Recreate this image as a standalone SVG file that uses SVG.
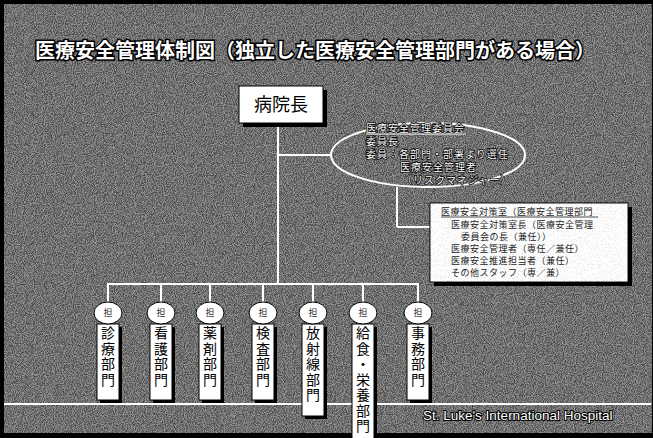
<svg xmlns="http://www.w3.org/2000/svg" width="653" height="438" viewBox="0 0 653 438">
<defs>
<filter id="noise" x="0" y="0" width="100%" height="100%" color-interpolation-filters="sRGB">
<feTurbulence type="fractalNoise" baseFrequency="1.1" numOctaves="1" seed="3" result="t"/>
<feColorMatrix type="matrix" values="3 0 0 0 -1  3 0 0 0 -1  3 0 0 0 -1  0 0 0 0 1" in="t"/>
</filter>
<filter id="lightnoise" x="0" y="0" width="100%" height="100%" color-interpolation-filters="sRGB">
<feTurbulence type="fractalNoise" baseFrequency="1.3" numOctaves="1" seed="7" result="t"/>
<feColorMatrix type="matrix" values="4 0 0 0 -1  4 0 0 0 -1  4 0 0 0 -1  0 0 0 0 1" in="t"/>
</filter>
<style>
.title{font-family:"Noto Sans CJK JP","Noto Sans CJK SC",sans-serif;font-size:20px;font-weight:bold;fill:#fff;stroke:#000;stroke-width:3px;paint-order:stroke;}
.wl{stroke:#fff;stroke-width:2;fill:none;}
.shadow{fill:#000;}
.box{fill:#fff;stroke:#000;stroke-width:1;}
.ell{font-family:"Noto Sans CJK JP",sans-serif;font-size:10px;fill:#fff;stroke:#000;stroke-width:1.5px;paint-order:stroke;letter-spacing:1px;}
.sm{font-family:"Noto Sans CJK JP",sans-serif;font-size:9px;fill:#222;letter-spacing:0.5px;}
.vt{font-family:"Noto Sans CJK JP",sans-serif;font-size:14px;fill:#000;writing-mode:vertical-rl;letter-spacing:1.5px;}
.cir{fill:#fff;stroke:#000;stroke-width:1;}
.ct{font-family:"Noto Sans CJK JP",sans-serif;font-size:9px;fill:#333;text-anchor:middle;}
.foot{font-family:"Liberation Sans",sans-serif;font-size:13.5px;fill:#fff;stroke:#000;stroke-width:2px;paint-order:stroke;}
</style>
</defs>
<rect x="0" y="0" width="653" height="438" fill="#000"/>
<rect x="4" y="4" width="648" height="429" fill="#6a6a6a"/>
<rect x="4" y="4" width="648" height="429" filter="url(#noise)" opacity="0.3"/>
<text class="title" x="35" y="58">医療安全管理体制図（独立した医療安全管理部門がある場合）</text>

<line x1="4" y1="404" x2="651" y2="404" stroke="#fff" stroke-width="2"/>
<rect x="0" y="433" width="653" height="5" fill="#000"/>
<text class="foot" x="423" y="420">St. Luke's International Hospital</text>

<g id="connectors">
<line class="wl" x1="278" y1="123" x2="278" y2="284"/>
<line class="wl" x1="278" y1="155" x2="331" y2="155"/>
<line class="wl" x1="397" y1="187" x2="397" y2="227"/>
<line class="wl" x1="397" y1="227" x2="430" y2="227"/>
<line class="wl" x1="107" y1="284" x2="419" y2="284"/>
<line class="wl" x1="108" y1="284" x2="108" y2="302"/>
<line class="wl" x1="161" y1="284" x2="161" y2="302"/>
<line class="wl" x1="210" y1="284" x2="210" y2="302"/>
<line class="wl" x1="263" y1="284" x2="263" y2="302"/>
<line class="wl" x1="313" y1="284" x2="313" y2="302"/>
<line class="wl" x1="363" y1="284" x2="363" y2="302"/>
<line class="wl" x1="418" y1="284" x2="418" y2="302"/>
</g>

<g id="director">
<rect class="shadow" x="243" y="90" width="84" height="37"/>
<rect class="box" x="239" y="86" width="84" height="37"/>
<text x="281" y="111" font-family="Noto Sans CJK JP,sans-serif" font-size="18" text-anchor="middle" fill="#000">病院長</text>
</g>

<g id="committee">
<ellipse cx="428" cy="155" rx="97" ry="32" fill="none" stroke="#fff" stroke-width="2"/>
<text class="ell" x="366" y="132">医療安全管理委員会</text>
<line x1="366" y1="134" x2="466" y2="134" stroke="#fff" stroke-width="1"/>
<text class="ell" x="366" y="145">委員長</text>
<text class="ell" x="366" y="158">委員：各部門・部署より選任</text>
<text class="ell" x="400" y="171">医療安全管理者</text>
<text class="ell" x="402" y="184">（リスクマネジャー）</text>
</g>

<g id="office">
<rect class="shadow" x="434" y="207" width="198" height="79"/>
<rect x="430" y="203" width="198" height="79" fill="#fff" stroke="#000"/>
<rect x="430" y="203" width="198" height="79" filter="url(#lightnoise)" opacity="0.1"/>
<text class="sm" x="441" y="215">医療安全対策室（医療安全管理部門</text>
<line x1="441" y1="217" x2="598" y2="217" stroke="#222" stroke-width="0.8"/>
<text class="sm" x="451" y="228">医療安全対策室長（医療安全管理</text>
<text class="sm" x="461" y="240">委員会の長（兼任））</text>
<text class="sm" x="451" y="252">医療安全管理者（専任／兼任）</text>
<text class="sm" x="451" y="264">医療安全推進担当者（兼任）</text>
<text class="sm" x="451" y="276">その他スタッフ（専／兼）</text>
</g>

<g id="dept1">
<rect class="shadow" x="100" y="327" width="22" height="76"/>
<rect class="box" x="97" y="324" width="22" height="76"/>
<text class="vt" x="108" y="326">診療部門</text>
<ellipse class="cir" cx="108" cy="313" rx="14" ry="11"/>
<text class="ct" x="108" y="316">担</text>
</g>
<g id="dept2">
<rect class="shadow" x="153" y="327" width="22" height="76"/>
<rect class="box" x="150" y="324" width="22" height="76"/>
<text class="vt" x="161" y="326">看護部門</text>
<ellipse class="cir" cx="161" cy="313" rx="14" ry="11"/>
<text class="ct" x="161" y="316">担</text>
</g>
<g id="dept3">
<rect class="shadow" x="202" y="327" width="22" height="76"/>
<rect class="box" x="199" y="324" width="22" height="76"/>
<text class="vt" x="210" y="326">薬剤部門</text>
<ellipse class="cir" cx="210" cy="313" rx="14" ry="11"/>
<text class="ct" x="210" y="316">担</text>
</g>
<g id="dept4">
<rect class="shadow" x="255" y="327" width="22" height="76"/>
<rect class="box" x="252" y="324" width="22" height="76"/>
<text class="vt" x="263" y="326">検査部門</text>
<ellipse class="cir" cx="263" cy="313" rx="14" ry="11"/>
<text class="ct" x="263" y="316">担</text>
</g>
<g id="dept5">
<rect class="shadow" x="305" y="327" width="22" height="92"/>
<rect class="box" x="302" y="324" width="22" height="92"/>
<text class="vt" x="313" y="326">放射線部門</text>
<ellipse class="cir" cx="313" cy="313" rx="14" ry="11"/>
<text class="ct" x="313" y="316">担</text>
</g>
<g id="dept6">
<rect class="shadow" x="355" y="327" width="22" height="115"/>
<rect class="box" x="352" y="324" width="22" height="118"/>
<text class="vt" x="363" y="326">給食・栄養部門</text>
<ellipse class="cir" cx="363" cy="313" rx="14" ry="11"/>
<text class="ct" x="363" y="316">担</text>
</g>
<g id="dept7">
<rect class="shadow" x="410" y="327" width="22" height="76"/>
<rect class="box" x="407" y="324" width="22" height="76"/>
<text class="vt" x="418" y="326">事務部門</text>
<ellipse class="cir" cx="418" cy="313" rx="14" ry="11"/>
<text class="ct" x="418" y="316">担</text>
</g>
</svg>
